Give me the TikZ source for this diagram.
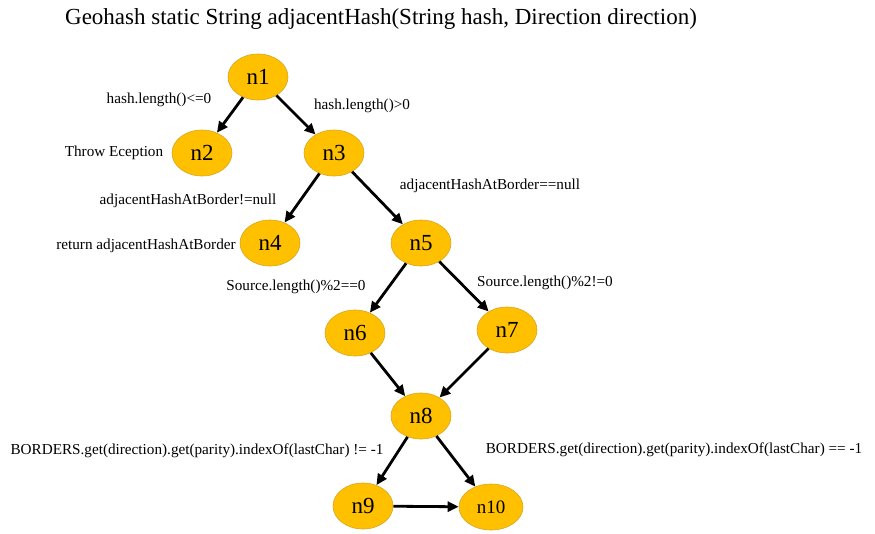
\documentclass[tikz,border=0pt]{standalone}
\usepackage{fontspec}
\setmainfont{Liberation Serif}
\usetikzlibrary{shapes.geometric,arrows.meta}
\definecolor{gold}{HTML}{FFC000}
\definecolor{goldline}{HTML}{D9A520}
\tikzset{
  vtx/.style={ellipse, fill=gold, draw=goldline, line width=0.6pt, minimum width=60pt, minimum height=46pt, inner sep=0pt, font=\fontsize{23}{25}\selectfont},
  lbl/.style={inner sep=0pt, yshift=-1.5pt, font=\fontsize{15.2}{17}\selectfont},
  edge/.style={line width=2.8pt, -{Triangle[length=11pt,width=10pt]}}
}
\begin{document}
\begin{tikzpicture}[x=1pt,y=-1pt]
\useasboundingbox (0,0) rectangle (875,533);
\node[inner sep=0pt, font=\fontsize{23}{25}\selectfont] (title) at (381,19) {Geohash static String adjacentHash(String hash, Direction direction)};
\node[vtx] (n1) at (258,77) {n1};
\node[vtx] (n2) at (202,153) {n2};
\node[vtx] (n3) at (334,153) {n3};
\node[vtx] (n4) at (270,243) {n4};
\node[vtx] (n5) at (421,243) {n5};
\node[vtx] (n6) at (355,333) {n6};
\node[vtx] (n7) at (507,330) {n7};
\node[vtx] (n8) at (421,416) {n8};
\node[vtx] (n9) at (363,506) {n9};
\node[vtx, minimum width=64pt, font=\fontsize{19}{21}\selectfont] (n10) at (491,507) {n10};
\draw[edge] (n1) -- (n2);
\draw[edge] (n1) -- (n3);
\draw[edge] (n3) -- (n4);
\draw[edge] (n3) -- (n5);
\draw[edge] (n5) -- (n6);
\draw[edge] (n5) -- (n7);
\draw[edge] (n6) -- (n8);
\draw[edge] (n7) -- (n8);
\draw[edge] (n8) -- (n9);
\draw[edge] (n8) -- (n10);
\draw[edge] (n9) -- (n10);
\node[lbl] (l12) at (159,98) {hash.length()<=0};
\node[lbl] (l13) at (362,104) {hash.length()>0};
\node[lbl] (l2) at (114,151) {Throw Eception};
\node[lbl] (l34) at (188,199) {adjacentHashAtBorder!=null};
\node[lbl] (l35) at (490,184) {adjacentHashAtBorder==null};
\node[lbl] (l4) at (146,244) {return adjacentHashAtBorder};
\node[lbl] (l56) at (296,285) {Source.length()\%2==0};
\node[lbl] (l57) at (545,281) {Source.length()\%2!=0};
\node[lbl] (l89) at (197,449) {BORDERS.get(direction).get(parity).indexOf(lastChar) != -1};
\node[lbl] (l810) at (674,448) {BORDERS.get(direction).get(parity).indexOf(lastChar) == -1};
\end{tikzpicture}
\end{document}
